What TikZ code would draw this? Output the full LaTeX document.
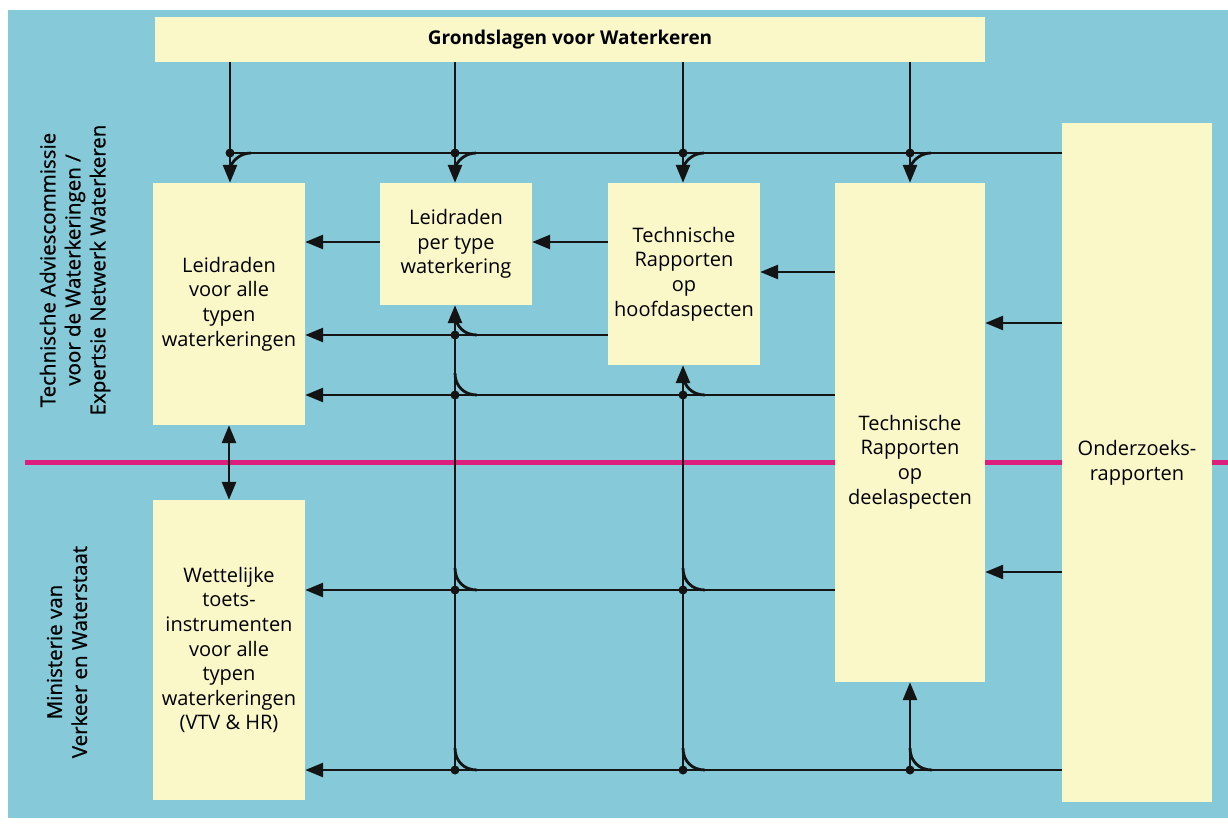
\documentclass[tikz,border=0pt]{standalone}
\usepackage{fontspec}
\setmainfont{Open Sans}
\newfontfamily\sidefont[FakeBold=0.8]{Open Sans}
\usetikzlibrary{arrows.meta,positioning}
\definecolor{water}{RGB}{134,202,217}
\definecolor{paper}{RGB}{250,247,201}
\definecolor{border}{RGB}{222,30,124}

\begin{document}
\begin{tikzpicture}[x=1pt,y=-1pt,
    box/.style={fill=paper,align=center,inner sep=0pt,
      font=\fontsize{20}{24.6}\selectfont},
    line/.style={line width=2.8pt,black!92},
    flow/.style={line,-{Triangle[length=18pt,width=14pt]}},
    both/.style={line,{Triangle[length=18pt,width=14pt]}-{Triangle[length=18pt,width=14pt]}},
    dot/.style={circle,fill=black!92,inner sep=0pt,minimum size=9pt},
    side/.style={rotate=90,align=center,font=\sidefont\fontsize{20.5}{25}\selectfont}]
  \useasboundingbox (0,0) rectangle (1228,833);
  \fill[water] (8,10) rectangle (1228,818);
  % the border between the two parties
  \draw[border,line width=5pt] (25,462) -- (1228,462);

  \node[box,minimum width=830pt,minimum height=45pt,font=\bfseries\fontsize{19}{22}\selectfont]
    (ground) at (570,39.5) {Grondslagen voor Waterkeren};
  \node[box,minimum width=152pt,minimum height=242pt] (lvoor) at (229,304)
    {Leidraden\\voor alle\\typen\\waterkeringen};
  \node[box,minimum width=152pt,minimum height=122pt] (lper) at (456,244)
    {Leidraden\\per type\\waterkering};
  \node[box,minimum width=152pt,minimum height=182pt] (trhoofd) at (684,274)
    {Technische\\Rapporten\\op\\hoofdaspecten};
  \node[box,minimum width=150pt,minimum height=499pt] (trdeel) at (910,432.5) {};
  \node[box,fill=none] (trdeeltxt) at (910,462)
    {Technische\\Rapporten\\op\\deelaspecten};
  \node[box,minimum width=150pt,minimum height=679pt] (onderz) at (1137,462.5)
    {Onderzoeks-\\rapporten};
  \node[box,minimum width=152pt,minimum height=300pt] (wet) at (229,650)
    {Wettelijke\\toets-\\instrumenten\\voor alle\\typen\\waterkeringen\\(VTV \& HR)};

  \node[side] (tawlabel) at (75,270)
    {Technische Adviescommissie\\voor de Waterkeringen /\\Expertsie Netwerk Waterkeren};
  \node[side] (vwlabel) at (67,652)
    {Ministerie van\\Verkeer en Waterstaat};

  % top row: from the Grondslagen down into each box
  \draw[line] (onderz.west |- 0,153) -- (230,153);
  \foreach \x/\n in {230/lvoor,455/lper,683/trhoofd,910/trdeel}{
    \draw[flow] (ground.south -| \x,0) -- (\n.north -| \x,0);
    \node[dot] at (\x,153) {};
    \draw[line] (\x+21,153) .. controls (\x+9,153) and (\x,163) .. (\x,170);
  }

  % arrows between the boxes
  \draw[flow] (lper.west |- 0,242) -- (lvoor.east |- 0,242);
  \draw[flow] (trhoofd.west |- 0,242) -- (lper.east |- 0,242);
  \draw[flow] (trdeel.west |- 0,272) -- (trhoofd.east |- 0,272);
  \draw[flow] (onderz.west |- 0,323) -- (trdeel.east |- 0,323);
  \draw[flow] (onderz.west |- 0,572) -- (trdeel.east |- 0,572);
  \draw[flow] (trhoofd.west |- 0,335) -- (lvoor.east |- 0,335);
  \draw[flow] (trdeel.west |- 0,395) -- (lvoor.east |- 0,395);
  \draw[flow] (trdeel.west |- 0,590) -- (wet.east |- 0,590);
  \draw[flow] (onderz.west |- 0,770) -- (wet.east |- 0,770);
  \draw[both] (lvoor.south) -- (wet.north);

  % upward branches
  \draw[flow] (455,770) -- (lper.south -| 455,0);
  \draw[flow] (683,770) -- (trhoofd.south -| 683,0);
  \draw[flow] (910,770) -- (trdeel.south -| 910,0);
  \foreach \x/\y in {455/335,455/395,683/395,455/590,683/590,455/770,683/770,910/770}{
    \node[dot] at (\x,\y) {};
    \draw[line] (\x+22,\y) .. controls (\x+9,\y) and (\x,\y-9) .. (\x,\y-22);
  }
\end{tikzpicture}
\end{document}
